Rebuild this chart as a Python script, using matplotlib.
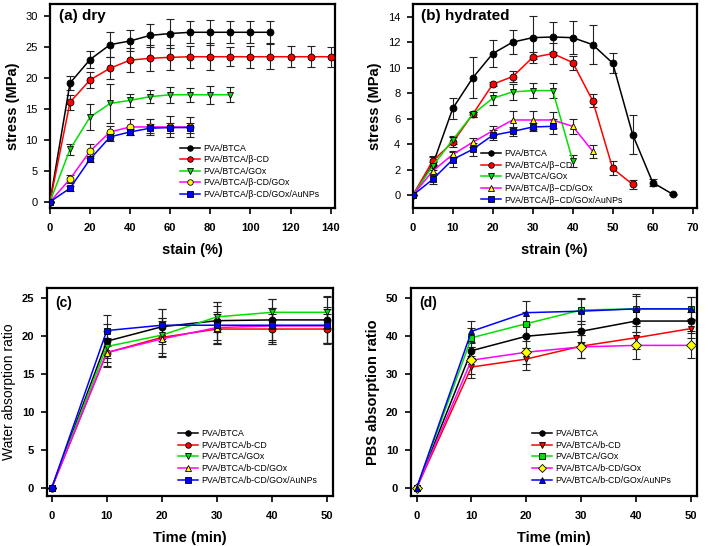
import numpy as np
import matplotlib.pyplot as plt

plt.rcParams['font.family'] = ['Liberation Sans', 'DejaVu Sans']

# ---- data ----
labels_ab = ['PVA/BTCA', 'PVA/BTCA/β-CD', 'PVA/BTCA/GOx', 'PVA/BTCA/β-CD/GOx', 'PVA/BTCA/β-CD/GOx/AuNPs']
labels_b = ['PVA/BTCA', 'PVA/BTCA/β\u2212CD', 'PVA/BTCA/GOx', 'PVA/BTCA/β\u2212CD/GOx', 'PVA/BTCA/β\u2212CD/GOx/AuNPs']
labels_cd = ['PVA/BTCA', 'PVA/BTCA/b-CD', 'PVA/BTCA/GOx', 'PVA/BTCA/b-CD/GOx', 'PVA/BTCA/b-CD/GOx/AuNPs']

# (a) dry
dry_btca = [0, 19.2, 23.0, 25.4, 26.0, 26.9, 27.2, 27.4, 27.4, 27.4, 27.4, 27.4]
dry_btca_err = [0, 1.1, 1.4, 2.0, 1.7, 1.9, 2.3, 1.8, 2.0, 1.8, 1.8, 1.8]
dry_cd = [0, 16.1, 19.7, 21.6, 22.9, 23.2, 23.35, 23.45, 23.45, 23.45, 23.45, 23.45, 23.45, 23.45, 23.45]
dry_cd_err = [0, 1.2, 1.3, 1.8, 1.9, 2.1, 2.0, 1.8, 2.2, 1.5, 1.8, 2.0, 1.7, 1.7, 1.6]
dry_gox = [0, 8.5, 13.7, 15.9, 16.4, 17.0, 17.3, 17.3, 17.3, 17.3]
dry_gox_err = [0, 0.9, 2.1, 3.1, 1.0, 1.0, 1.3, 1.1, 1.5, 1.2]
dry_cdgox = [0, 3.7, 8.2, 11.3, 12.1, 12.1, 12.1, 12.1]
dry_cdgox_err = [0, 0.7, 1.1, 0.9, 1.3, 1.3, 1.7, 1.6]
dry_au = [0, 2.2, 6.9, 10.5, 11.3, 11.9, 12.0, 12.0]
dry_au_err = [0, 0.4, 0.5, 0.6, 0.5, 0.7, 0.8, 0.8]

# (b) hydrated
hyd_btca = [0, 2.4, 6.8, 9.2, 11.1, 12.0, 12.35, 12.4, 12.35, 11.8, 10.35, 4.75, 1.0, 0.08]
hyd_btca_err = [0, 0.65, 0.8, 1.6, 1.05, 0.95, 1.7, 1.2, 1.3, 1.55, 0.8, 1.5, 0.3, 0.05]
hyd_cd = [0, 2.7, 4.15, 6.35, 8.7, 9.3, 10.8, 11.1, 10.4, 7.4, 2.1, 0.85]
hyd_cd_err = [0, 0.3, 0.4, 0.2, 0.15, 0.4, 0.45, 0.85, 0.55, 0.5, 0.55, 0.35]
hyd_gox = [0, 2.3, 4.35, 6.35, 7.6, 8.1, 8.2, 8.2, 2.7]
hyd_gox_err = [0, 0.3, 0.3, 0.2, 0.5, 0.6, 0.6, 0.6, 0.45]
hyd_cdgox = [0, 1.9, 3.2, 4.15, 5.05, 5.9, 5.9, 5.9, 5.4, 3.45]
hyd_cdgox_err = [0, 0.3, 0.3, 0.35, 0.35, 0.7, 0.7, 0.65, 0.6, 0.5]
hyd_au = [0, 1.25, 2.8, 3.6, 4.7, 5.0, 5.35, 5.4]
hyd_au_err = [0, 0.35, 0.6, 0.5, 0.4, 0.35, 0.3, 0.6]

# (c) water absorption / (d) PBS absorption
time_min = [0, 10, 20, 30, 40, 50]
water_btca = [0, 19.3, 21.2, 22.0, 22.1, 22.1]
water_btca_err = [0, 2.2, 2.3, 2.5, 2.7, 3.0]
water_cd = [0, 17.8, 19.8, 20.9, 20.9, 20.9]
water_cd_err = [0, 1.9, 2.5, 2.0, 2.0, 2.0]
water_gox = [0, 18.6, 20.1, 22.5, 23.1, 23.1]
water_gox_err = [0, 2.0, 2.3, 2.0, 1.8, 2.1]
water_cdgox = [0, 17.8, 19.6, 21.1, 21.3, 21.3]
water_cdgox_err = [0, 1.8, 2.4, 2.1, 2.4, 2.2]
water_au = [0, 20.7, 21.4, 21.4, 21.4, 21.4]
water_au_err = [0, 2.0, 2.1, 2.5, 2.2, 2.4]

pbs_btca = [0, 36.1, 39.9, 41.2, 43.9, 43.9]
pbs_btca_err = [0, 2.0, 3.0, 2.8, 3.0, 2.5]
pbs_cd = [0, 31.8, 33.9, 37.3, 39.5, 41.9]
pbs_cd_err = [0, 3.0, 2.8, 3.0, 3.0, 2.5]
pbs_gox = [0, 39.5, 43.2, 46.8, 47.1, 47.1]
pbs_gox_err = [0, 2.5, 3.0, 3.0, 3.5, 3.0]
pbs_cdgox = [0, 33.6, 35.7, 37.1, 37.5, 37.5]
pbs_cdgox_err = [0, 3.5, 3.0, 3.0, 3.5, 3.2]
pbs_au = [0, 41.2, 46.1, 46.5, 47.1, 47.1]
pbs_au_err = [0, 2.8, 3.0, 3.5, 3.8, 3.0]

line_colors = ['black', 'red', '#00e000', 'magenta', 'blue']
face_colors = ['black', 'red', '#00e000', 'yellow', 'blue']


def draw(ax, xs, ys, errs, markers, labels):
    for i in range(len(ys)):
        ax.errorbar(xs[i], ys[i], yerr=errs[i], fmt='none', ecolor='#222222',
                    elinewidth=0.8, capsize=3, capthick=0.8, zorder=2)
        ax.plot(xs[i], ys[i], color=line_colors[i], lw=1.1, marker=markers[i],
                ms=5, mfc=face_colors[i], mec='black', mew=0.6, zorder=3,
                label=labels[i])


def style(ax, bold_ticks_x, bold_ticks_y):
    for s in ax.spines.values():
        s.set_linewidth(1.6)
    ax.tick_params(direction='out', length=4, width=1.2, labelsize=8, top=False, right=False)
    ax.tick_params(axis='x', pad=7)
    ax.tick_params(axis='y', pad=5)
    ax.xaxis.labelpad = 7
    for t in ax.get_xticklabels():
        t.set_fontweight('bold' if bold_ticks_x else 'normal')
    for t in ax.get_yticklabels():
        t.set_fontweight('bold' if bold_ticks_y else 'normal')


fig = plt.figure(figsize=(7.08, 5.46), dpi=100)
ax_a = fig.add_axes([0.0706, 0.619, 0.402, 0.374])
ax_b = fig.add_axes([0.583, 0.619, 0.401, 0.374])
ax_c = fig.add_axes([0.066, 0.0916, 0.404, 0.381])
ax_d = fig.add_axes([0.580, 0.0916, 0.404, 0.381])

# (a)
xa = [list(range(0, 10 * len(v), 10)) for v in [dry_btca, dry_cd, dry_gox, dry_cdgox, dry_au]]
draw(ax_a, xa, [dry_btca, dry_cd, dry_gox, dry_cdgox, dry_au],
     [dry_btca_err, dry_cd_err, dry_gox_err, dry_cdgox_err, dry_au_err],
     ['o', 'o', 'v', 'o', 's'], labels_ab)
ax_a.set_xlim(0, 142)
ax_a.set_ylim(-1, 32)
ax_a.set_xticks(range(0, 141, 20))
ax_a.set_yticks(range(0, 31, 5))
ax_a.set_xlabel('stain (%)', fontsize=10.5, fontweight='bold')
ax_a.set_ylabel('stress (MPa)', fontsize=10.5, fontweight='bold')
ax_a.text(0.03, 0.94, '(a) dry', transform=ax_a.transAxes, fontsize=11, fontweight='bold', va='center')
style(ax_a, True, False)

# (b)
xb = [list(range(0, 5 * len(v), 5)) for v in [hyd_btca, hyd_cd, hyd_gox, hyd_cdgox, hyd_au]]
draw(ax_b, xb, [hyd_btca, hyd_cd, hyd_gox, hyd_cdgox, hyd_au],
     [hyd_btca_err, hyd_cd_err, hyd_gox_err, hyd_cdgox_err, hyd_au_err],
     ['o', 'o', 'v', '^', 's'], labels_b)
ax_b.set_xlim(0, 71)
ax_b.set_ylim(-1, 15)
ax_b.set_xticks(range(0, 71, 10))
ax_b.set_yticks(range(0, 15, 2))
ax_b.set_xlabel('strain (%)', fontsize=10.5, fontweight='bold')
ax_b.set_ylabel('stress (MPa)', fontsize=10.5, fontweight='bold')
ax_b.text(0.03, 0.94, '(b) hydrated', transform=ax_b.transAxes, fontsize=11, fontweight='bold', va='center')
style(ax_b, True, False)

# (c)
draw(ax_c, [time_min] * 5, [water_btca, water_cd, water_gox, water_cdgox, water_au],
     [water_btca_err, water_cd_err, water_gox_err, water_cdgox_err, water_au_err],
     ['o', 'o', 'v', '^', 's'], labels_cd)
ax_c.set_xlim(-0.9, 51)
ax_c.set_ylim(-1.05, 26.3)
ax_c.set_xticks(time_min)
ax_c.set_yticks(range(0, 26, 5))
ax_c.set_xlabel('Time (min)', fontsize=10.5, fontweight='bold')
ax_c.set_ylabel('Water absorption ratio', fontsize=10)
ax_c.text(0.03, 0.93, '(c)', transform=ax_c.transAxes, fontsize=10, fontweight='bold', va='center')
style(ax_c, True, True)

# (d)
draw(ax_d, [time_min] * 5, [pbs_btca, pbs_cd, pbs_gox, pbs_cdgox, pbs_au],
     [pbs_btca_err, pbs_cd_err, pbs_gox_err, pbs_cdgox_err, pbs_au_err],
     ['o', 'v', 's', 'D', '^'], labels_cd)
ax_d.set_xlim(-1.1, 51.1)
ax_d.set_ylim(-2.1, 52.6)
ax_d.set_xticks(time_min)
ax_d.set_yticks(range(0, 51, 10))
ax_d.set_xlabel('Time (min)', fontsize=10.5, fontweight='bold')
ax_d.set_ylabel('PBS absorption ratio', fontsize=10.5, fontweight='bold')
ax_d.text(0.03, 0.93, '(d)', transform=ax_d.transAxes, fontsize=10, fontweight='bold', va='center')
style(ax_d, True, True)

for ax, anchor in [(ax_a, (0.254, 0.737)), (ax_b, (0.679, 0.727)),
                   (ax_c, (0.251, 0.214)), (ax_d, (0.751, 0.214))]:
    ax.legend(loc='upper left', bbox_to_anchor=anchor, bbox_transform=fig.transFigure,
              frameon=False, fontsize=6.3, handlelength=2.3, handletextpad=0.4,
              labelspacing=0.3, borderpad=0, borderaxespad=0, markerscale=0.8)

fig.savefig('out.png', dpi=100)
